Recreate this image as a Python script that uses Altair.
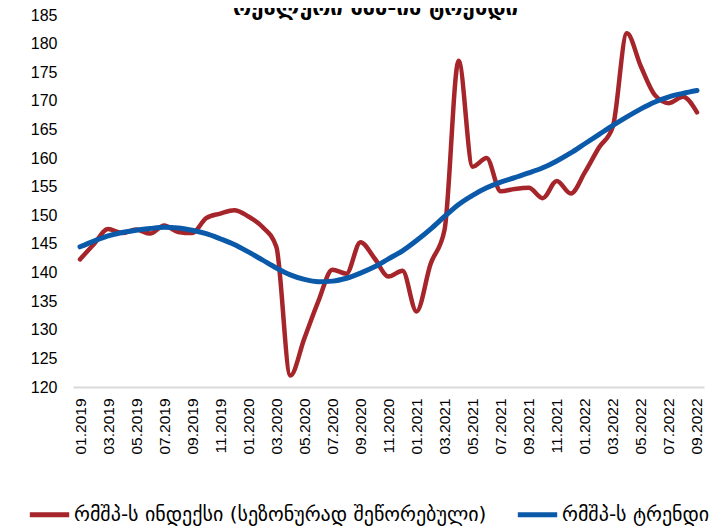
import altair as alt
import pandas as pd

months = [f"{m:02d}.{y}" for y in (2019, 2020, 2021, 2022) for m in range(1, 13)][:45]

index_values = [142.3, 145.0, 147.6, 146.9, 147.5, 146.8, 148.2, 147.1, 146.9, 149.5, 150.3, 150.9,
                149.8, 148.0, 144.5, 122.0, 128.5, 135.0, 140.5, 139.8, 145.3, 142.5, 139.3, 140.3,
                133.2, 141.5, 147.5, 177.0, 158.5, 160.0, 154.2, 154.6, 154.8, 153.0, 156.0, 153.8,
                157.5, 161.8, 165.5, 181.8, 176.0, 171.0, 169.6, 170.7, 168.0]

trend_values = [144.5, 145.5, 146.4, 147.0, 147.4, 147.7, 147.9, 147.8, 147.4, 146.8, 145.9, 144.9,
                143.6, 142.2, 140.8, 139.6, 138.8, 138.4, 138.5, 139.0, 139.9, 141.0, 142.4, 143.8,
                145.6, 147.6, 149.8, 151.9, 153.5, 154.8, 155.8, 156.6, 157.4, 158.3, 159.5, 160.9,
                162.5, 164.1, 165.7, 167.2, 168.6, 169.8, 170.7, 171.3, 171.8]

s_index = "რმშპ-ს ინდექსი (სეზონურად შეწორებული)"
s_trend = "რმშპ-ს ტრენდი"
title_text = "რეალური მშპ-ის ტრენდი"

red_c = "#A5252A"
blue_c = "#0B5AAA"

df_index = pd.DataFrame({"month": months, "value": index_values, "series": s_index})
df_trend = pd.DataFrame({"month": months, "value": trend_values, "series": s_trend})

x_enc = alt.X(
    "month:O", sort=months,
    scale=alt.Scale(type="point", padding=0.5),
    axis=alt.Axis(values=months[::2], labelAngle=270, title=None, ticks=False,
                  domainColor="#d9d9d9", domainWidth=2, labelFontSize=15.5,
                  labelFont="Liberation Sans", labelColor="#000000", labelPadding=11),
)
y_enc = alt.Y(
    "value:Q",
    scale=alt.Scale(domain=[120, 185], nice=False, zero=False),
    axis=alt.Axis(values=list(range(120, 186, 5)), title=None, domain=False, ticks=False,
                  grid=False, labelFontSize=16, labelFont="Liberation Sans",
                  labelColor="#000000", labelPadding=16),
)
color_enc = alt.Color(
    "series:N",
    scale=alt.Scale(domain=[s_index, s_trend], range=[red_c, blue_c]),
    legend=alt.Legend(
        title=None, orient="none", legendX=-46, legendY=477, direction="horizontal",
        symbolType="stroke", symbolSize=1550, symbolStrokeWidth=5,
        labelFontSize=20, labelFont="DejaVu Sans", labelColor="#000000",
        labelLimit=800, columnPadding=20, labelOffset=2,
    ),
)

red_line = alt.Chart(df_index).mark_line(
    strokeWidth=4.5, interpolate="monotone", strokeCap="round", strokeJoin="round"
).encode(x=x_enc, y=y_enc, color=color_enc)

blue_line = alt.Chart(df_trend).mark_line(
    strokeWidth=5, interpolate="monotone", strokeCap="round", strokeJoin="round"
).encode(x=x_enc, y=y_enc, color=color_enc)

chart = alt.layer(red_line, blue_line).properties(
    width=631, height=372,
    title=alt.TitleParams(title_text, fontSize=22, font="DejaVu Sans", fontWeight="bold",
                          color="#000000", anchor="middle", offset=-13, dx=-13),
    autosize=alt.AutoSizeParams(type="none"),
    padding={"left": 65, "top": 7, "right": 10, "bottom": 139},
).configure_view(stroke=None)

chart.save("out.html", embed_options={"renderer": "svg", "actions": False})
